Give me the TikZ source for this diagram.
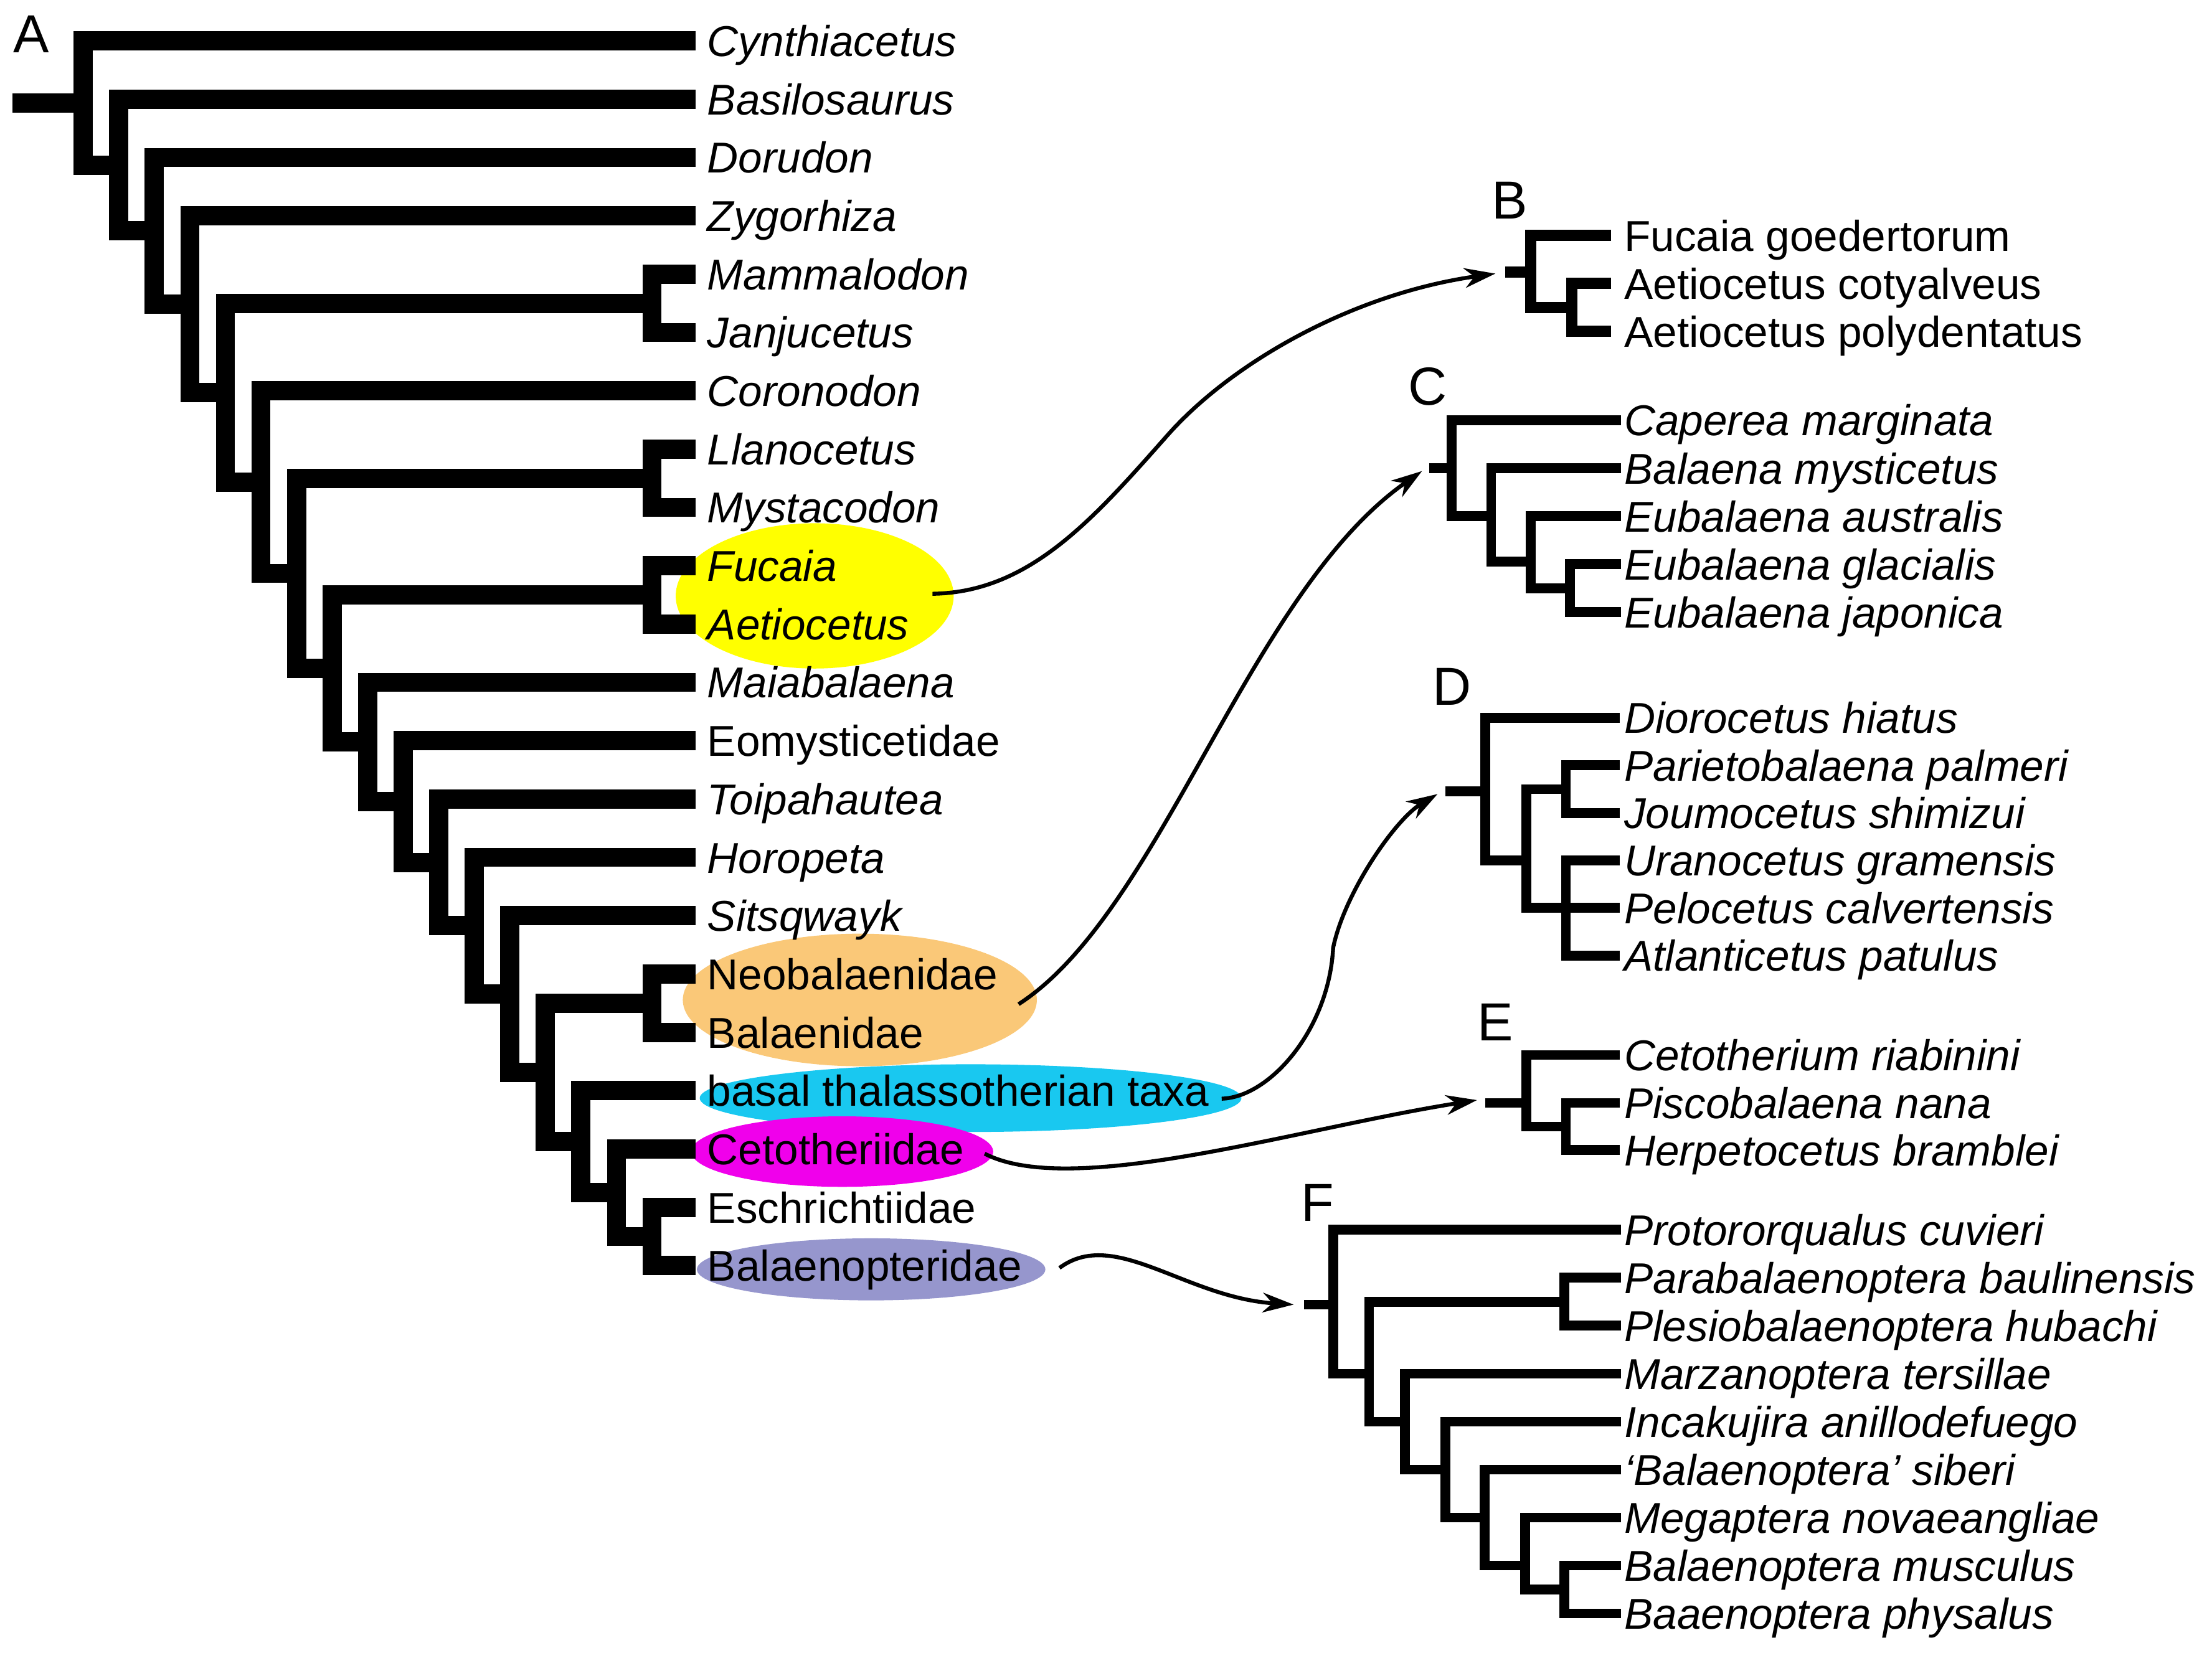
\documentclass[tikz,border=0pt]{standalone}
\usepackage{fontspec}
\setmainfont{Liberation Sans}
\usetikzlibrary{arrows.meta,shapes.geometric}
\definecolor{hlyellow}{RGB}{255,255,0}
\definecolor{hlorange}{RGB}{250,200,120}
\definecolor{hlcyan}{RGB}{25,200,240}
\definecolor{hlmagenta}{RGB}{240,0,235}
\definecolor{hllav}{RGB}{150,150,205}
\begin{document}
\begin{tikzpicture}[x=0.5pt,y=-0.5pt,
  bigtree/.style={line width=6.8pt, line join=miter, line cap=butt},
  btree/.style={line width=4pt, line join=miter, line cap=butt},
  smalltree/.style={line width=3.5pt, line join=miter, line cap=butt},
  taxon/.style={anchor=base west, inner sep=0pt, font=\fontsize{15.3}{18}\selectfont},
  itaxon/.style={anchor=base west, inner sep=0pt, font=\fontsize{15.3}{18}\selectfont\itshape},
  panel/.style={anchor=base west, inner sep=0pt, font=\fontsize{19}{22}\selectfont},
  link/.style={line width=1.4pt, -{Stealth[length=11pt,width=7pt,inset=3.5pt]}},
  hl/.style={ellipse, inner sep=0pt, draw=none}]
\useasboundingbox (0,0) rectangle (1568,1172);

% ---------- highlight ellipses ----------
\node[hl, fill=hlyellow, minimum width=98.5pt, minimum height=51.5pt] (hY) at (577.5,422.5) {};
\node[hl, fill=hlorange, minimum width=125.5pt, minimum height=47pt] (hO) at (609.5,709) {};
\node[hl, fill=hlcyan, minimum width=192pt, minimum height=24pt] (hC) at (688,778.6) {};
\node[hl, fill=hlmagenta, minimum width=107pt, minimum height=25pt] (hM) at (597,816.5) {};
\node[hl, fill=hllav, minimum width=123.5pt, minimum height=22pt] (hL) at (617.5,900) {};

% ---------- panel letters ----------
\node[panel] (LA) at (9,37.5) {A};
\node[panel] (LB) at (1057,155) {B};
\node[panel] (LC) at (998,287) {C};
\node[panel] (LD) at (1015,500) {D};
\node[panel] (LE) at (1047,738) {E};
\node[panel] (LF) at (922,866) {F};

% ---------- tree A : tips ----------
\coordinate (e1) at (493,29.00);  \node[itaxon] (t1) at (501,40.00) {Cynthiacetus};
\coordinate (e2) at (493,70.35);  \node[itaxon] (t2) at (501,81.35) {Basilosaurus};
\coordinate (e3) at (493,111.70); \node[itaxon] (t3) at (501,122.70) {Dorudon};
\coordinate (e4) at (493,153.05); \node[itaxon] (t4) at (501,164.05) {Zygorhiza};
\coordinate (e5) at (493,194.40); \node[itaxon] (t5) at (501,205.40) {Mammalodon};
\coordinate (e6) at (493,235.75); \node[itaxon] (t6) at (501,246.75) {Janjucetus};
\coordinate (e7) at (493,277.10); \node[itaxon] (t7) at (501,288.10) {Coronodon};
\coordinate (e8) at (493,318.45); \node[itaxon] (t8) at (501,329.45) {Llanocetus};
\coordinate (e9) at (493,359.80); \node[itaxon] (t9) at (501,370.80) {Mystacodon};
\coordinate (e10) at (493,401.15); \node[itaxon] (t10) at (501,412.15) {Fucaia};
\coordinate (e11) at (493,442.50); \node[itaxon] (t11) at (501,453.50) {Aetiocetus};
\coordinate (e12) at (493,483.85); \node[itaxon] (t12) at (501,494.85) {Maiabalaena};
\coordinate (e13) at (493,525.20); \node[taxon] (t13) at (501,536.20) {Eomysticetidae};
\coordinate (e14) at (493,566.55); \node[itaxon] (t14) at (501,577.55) {Toipahautea};
\coordinate (e15) at (493,607.90); \node[itaxon] (t15) at (501,618.90) {Horopeta};
\coordinate (e16) at (493,649.25); \node[itaxon] (t16) at (501,660.25) {Sitsqwayk};
\coordinate (e17) at (493,690.60); \node[taxon] (t17) at (501,701.60) {Neobalaenidae};
\coordinate (e18) at (493,731.95); \node[taxon] (t18) at (501,742.95) {Balaenidae};
\coordinate (e19) at (493,773.30); \node[taxon] (t19) at (501,784.30) {basal thalassotherian taxa};
\coordinate (e20) at (493,814.65); \node[taxon] (t20) at (501,825.65) {Cetotheriidae};
\coordinate (e21) at (493,856.00); \node[taxon] (t21) at (501,867.00) {Eschrichtiidae};
\coordinate (e22) at (493,897.35); \node[taxon] (t22) at (501,908.35) {Balaenopteridae};

% ---------- tree A : internal nodes ----------
\coordinate (r0) at (9,73.02);
\coordinate (n1) at (59.0,73.02);
\coordinate (n2) at (84.2,117.04);
\coordinate (n3) at (109.4,163.73);
\coordinate (n4) at (134.6,215.75);
\coordinate (n5) at (159.8,278.45);
\coordinate (n6) at (185.0,341.82);
\coordinate (n7) at (210.2,406.54);
\coordinate (n8) at (235.4,473.96);
\coordinate (n9) at (260.6,526.09);
\coordinate (n10) at (285.8,568.33);
\coordinate (n11) at (311.0,611.45);
\coordinate (n12) at (336.2,656.36);
\coordinate (n13) at (361.4,704.81);
\coordinate (n14) at (386.6,760.38);
\coordinate (n15) at (411.8,809.48);
\coordinate (n16) at (437.0,845.66);
\coordinate (cMJ) at (462.2,215.08);
\coordinate (cLM) at (462.2,339.13);
\coordinate (cFA) at (462.2,421.83);
\coordinate (cNB) at (462.2,711.28);
\coordinate (cEB) at (462.2,876.68);

\draw[bigtree] (r0) -- (n1);
\draw[bigtree] (e1) -- (n1 |- e1) -- (n1 |- n2) -- (n2);
\draw[bigtree] (e2) -- (n2 |- e2) -- (n2 |- n3) -- (n3);
\draw[bigtree] (e3) -- (n3 |- e3) -- (n3 |- n4) -- (n4);
\draw[bigtree] (e4) -- (n4 |- e4) -- (n4 |- n5) -- (n5);
\draw[bigtree] (cMJ) -- (n5 |- cMJ) -- (n5 |- n6) -- (n6);
\draw[bigtree] (e5) -- (cMJ |- e5) -- (cMJ |- e6) -- (e6);
\draw[bigtree] (e7) -- (n6 |- e7) -- (n6 |- n7) -- (n7);
\draw[bigtree] (cLM) -- (n7 |- cLM) -- (n7 |- n8) -- (n8);
\draw[bigtree] (e8) -- (cLM |- e8) -- (cLM |- e9) -- (e9);
\draw[bigtree] (cFA) -- (n8 |- cFA) -- (n8 |- n9) -- (n9);
\draw[bigtree] (e10) -- (cFA |- e10) -- (cFA |- e11) -- (e11);
\draw[bigtree] (e12) -- (n9 |- e12) -- (n9 |- n10) -- (n10);
\draw[bigtree] (e13) -- (n10 |- e13) -- (n10 |- n11) -- (n11);
\draw[bigtree] (e14) -- (n11 |- e14) -- (n11 |- n12) -- (n12);
\draw[bigtree] (e15) -- (n12 |- e15) -- (n12 |- n13) -- (n13);
\draw[bigtree] (e16) -- (n13 |- e16) -- (n13 |- n14) -- (n14);
\draw[bigtree] (cNB) -- (n14 |- cNB) -- (n14 |- n15) -- (n15);
\draw[bigtree] (e17) -- (cNB |- e17) -- (cNB |- e18) -- (e18);
\draw[bigtree] (e19) -- (n15 |- e19) -- (n15 |- n16) -- (n16);
\draw[bigtree] (e20) -- (n16 |- e20) -- (n16 |- cEB) -- (cEB);
\draw[bigtree] (e21) -- (cEB |- e21) -- (cEB |- e22) -- (e22);

% ---------- tree B ----------
\coordinate (bt1) at (1142,167); \node[taxon] (bl1) at (1151,178) {Fucaia goedertorum};
\coordinate (bt2) at (1142,201); \node[taxon] (bl2) at (1151,212) {Aetiocetus cotyalveus};
\coordinate (bt3) at (1142,235); \node[taxon] (bl3) at (1151,246) {Aetiocetus polydentatus};
\coordinate (bs) at (1067,193);
\coordinate (bn) at (1085,193);
\coordinate (bc) at (1114,218);
\draw[btree] (bs) -- (bn);
\draw[btree] (bt1) -- (bn |- bt1) -- (bn |- bc) -- (bc);
\draw[btree] (bt2) -- (bc |- bt2) -- (bc |- bt3) -- (bt3);

% ---------- tree C ----------
\coordinate (ct1) at (1149,298); \node[itaxon] (cl1) at (1151,309) {Caperea marginata};
\coordinate (ct2) at (1149,332); \node[itaxon] (cl2) at (1151,343) {Balaena mysticetus};
\coordinate (ct3) at (1149,366); \node[itaxon] (cl3) at (1151,377) {Eubalaena australis};
\coordinate (ct4) at (1149,400); \node[itaxon] (cl4) at (1151,411) {Eubalaena glacialis};
\coordinate (ct5) at (1149,434); \node[itaxon] (cl5) at (1151,445) {Eubalaena japonica};
\coordinate (cs) at (1013,332);
\coordinate (cn1) at (1029,332);
\coordinate (cn2) at (1057,366);
\coordinate (cn3) at (1085,398);
\coordinate (cn4) at (1113,417);
\draw[smalltree] (cs) -- (cn1);
\draw[smalltree] (ct1) -- (cn1 |- ct1) -- (cn1 |- cn2) -- (cn2);
\draw[smalltree] (ct2) -- (cn2 |- ct2) -- (cn2 |- cn3) -- (cn3);
\draw[smalltree] (ct3) -- (cn3 |- ct3) -- (cn3 |- cn4) -- (cn4);
\draw[smalltree] (ct4) -- (cn4 |- ct4) -- (cn4 |- ct5) -- (ct5);

% ---------- tree D ----------
\coordinate (dt1) at (1148,509.0); \node[itaxon] (dl1) at (1151,520.0) {Diorocetus hiatus};
\coordinate (dt2) at (1148,542.7); \node[itaxon] (dl2) at (1151,553.7) {Parietobalaena palmeri};
\coordinate (dt3) at (1148,576.4); \node[itaxon] (dl3) at (1151,587.4) {Joumocetus shimizui};
\coordinate (dt4) at (1148,610.1); \node[itaxon] (dl4) at (1151,621.1) {Uranocetus gramensis};
\coordinate (dt5) at (1148,643.8); \node[itaxon] (dl5) at (1151,654.8) {Pelocetus calvertensis};
\coordinate (dt6) at (1148,677.5); \node[itaxon] (dl6) at (1151,688.5) {Atlanticetus patulus};
\coordinate (ds) at (1024.5,561);
\coordinate (dn1) at (1053,561);
\coordinate (dn2) at (1082,610.1);
\coordinate (dA) at (1110,559.55);
\coordinate (dB) at (1110,643.8);
\draw[smalltree] (ds) -- (dn1);
\draw[smalltree] (dt1) -- (dn1 |- dt1) -- (dn1 |- dn2) -- (dn2);
\draw[smalltree] (dA) -- (dn2 |- dA) -- (dn2 |- dB) -- (dB);
\draw[smalltree] (dt2) -- (dA |- dt2) -- (dA |- dt3) -- (dt3);
\draw[smalltree] (dt4) -- (dB |- dt4) -- (dB |- dt6) -- (dt6);
\draw[smalltree] (dB) -- (dt5);

% ---------- tree E ----------
\coordinate (et1) at (1148,748);   \node[itaxon] (el1) at (1151,759) {Cetotherium riabinini};
\coordinate (et2) at (1148,782);   \node[itaxon] (el2) at (1151,793) {Piscobalaena nana};
\coordinate (et3) at (1148,815.5); \node[itaxon] (el3) at (1151,826.5) {Herpetocetus bramblei};
\coordinate (es) at (1053,782);
\coordinate (en1) at (1082,782);
\coordinate (en2) at (1110,798.75);
\draw[smalltree] (es) -- (en1);
\draw[smalltree] (et1) -- (en1 |- et1) -- (en1 |- en2) -- (en2);
\draw[smalltree] (et2) -- (en2 |- et2) -- (en2 |- et3) -- (et3);

% ---------- tree F ----------
\coordinate (ft1) at (1149,872);  \node[itaxon] (fl1) at (1151,883) {Protororqualus cuvieri};
\coordinate (ft2) at (1149,906);  \node[itaxon] (fl2) at (1151,917) {Parabalaenoptera baulinensis};
\coordinate (ft3) at (1149,940);  \node[itaxon] (fl3) at (1151,951) {Plesiobalaenoptera hubachi};
\coordinate (ft4) at (1149,974);  \node[itaxon] (fl4) at (1151,985) {Marzanoptera tersillae};
\coordinate (ft5) at (1149,1008); \node[itaxon] (fl5) at (1151,1019) {Incakujira anillodefuego};
\coordinate (ft6) at (1149,1042); \node[itaxon] (fl6) at (1151,1053) {`Balaenoptera' siberi};
\coordinate (ft7) at (1149,1076); \node[itaxon] (fl7) at (1151,1087) {Megaptera novaeangliae};
\coordinate (ft8) at (1149,1110); \node[itaxon] (fl8) at (1151,1121) {Balaenoptera musculus};
\coordinate (ft9) at (1149,1144); \node[itaxon] (fl9) at (1151,1155) {Baaenoptera physalus};
\coordinate (fs) at (924.4,925);
\coordinate (fn1) at (945,925);
\coordinate (fc1) at (1109,923);
\coordinate (fn2) at (970.5,974);
\coordinate (fn3) at (996,1008);
\coordinate (fn4) at (1024.6,1042);
\coordinate (fn5) at (1052.3,1076);
\coordinate (fn6) at (1081,1110);
\coordinate (fn7) at (1109,1127);
\draw[smalltree] (fs) -- (fn1);
\draw[smalltree] (ft1) -- (fn1 |- ft1) -- (fn1 |- fn2) -- (fn2);
\draw[smalltree] (fc1) -- (fn2 |- fc1) -- (fn2 |- fn3) -- (fn3);
\draw[smalltree] (ft2) -- (fc1 |- ft2) -- (fc1 |- ft3) -- (ft3);
\draw[smalltree] (ft4) -- (fn3 |- ft4) -- (fn3 |- fn4) -- (fn4);
\draw[smalltree] (ft5) -- (fn4 |- ft5) -- (fn4 |- fn5) -- (fn5);
\draw[smalltree] (ft6) -- (fn5 |- ft6) -- (fn5 |- fn6) -- (fn6);
\draw[smalltree] (ft7) -- (fn6 |- ft7) -- (fn6 |- fn7) -- (fn7);
\draw[smalltree] (ft8) -- (fn7 |- ft8) -- (fn7 |- ft9) -- (ft9);

% ---------- connectors ----------
\coordinate (aB) at (661,421);  \coordinate (mB) at (829,307);  \coordinate (zB) at (1060,194);
\coordinate (aC) at (722,712);  \coordinate (zC) at (1008,334);
\coordinate (aD) at (866,779);  \coordinate (mD) at (945,672);  \coordinate (zD) at (1019,563);
\coordinate (aE) at (698,818);  \coordinate (zE) at (1047,780);
\coordinate (aF) at (751,899);  \coordinate (zF) at (917,925);

\draw[link] (aB) .. controls (730,420) and (775,368) .. (mB)
                 .. controls (876,255) and (961,208) .. (zB);
\draw[link] (aC) .. controls (823,647) and (885,420) .. (zC);
\draw[link] (aD) .. controls (900,778) and (942,730) .. (mD)
                 .. controls (953,633) and (989,581) .. (zD);
\draw[link] (aE) .. controls (760,850) and (920,800) .. (zE);
\draw[link] (aF) .. controls (790,870) and (840,920) .. (zF);
\end{tikzpicture}
\end{document}
